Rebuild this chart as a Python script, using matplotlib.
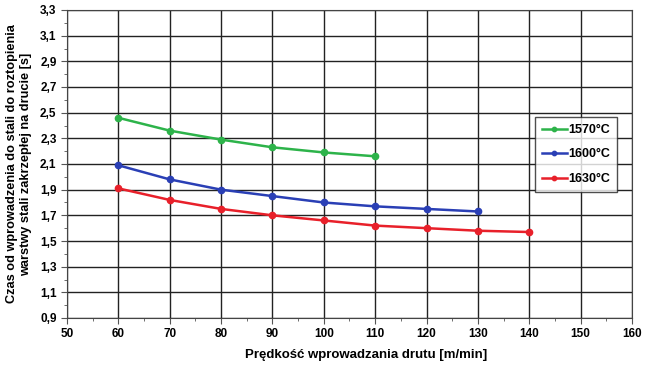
import numpy as np
import matplotlib.pyplot as plt
from matplotlib.ticker import MultipleLocator, FuncFormatter

# data
speed_1570 = [60, 70, 80, 90, 100, 110]
time_1570 = [2.46, 2.36, 2.29, 2.23, 2.19, 2.16]
speed_1600 = [60, 70, 80, 90, 100, 110, 120, 130]
time_1600 = [2.09, 1.98, 1.90, 1.85, 1.80, 1.77, 1.75, 1.73]
speed_1630 = [60, 70, 80, 90, 100, 110, 120, 130, 140]
time_1630 = [1.91, 1.82, 1.75, 1.70, 1.66, 1.62, 1.60, 1.58, 1.57]
labels = ["1570°C", "1600°C", "1630°C"]

plt.rcParams["font.family"] = ["Liberation Sans", "DejaVu Sans"]
plt.rcParams["font.weight"] = "bold"

fig = plt.figure(figsize=(6.46, 3.65), dpi=100)
ax = fig.add_axes([67 / 646, 1 - 318 / 365, 565 / 646, 308 / 365])

series = [
    (speed_1570, time_1570, "#2db34a"),
    (speed_1600, time_1600, "#2a3fb5"),
    (speed_1630, time_1630, "#e8202a"),
]
for (x, y, c), lab in zip(series, labels):
    ax.plot(x, y, color=c, lw=1.8, marker="o", ms=4.5, label=lab, zorder=3)

ax.set_xlim(50, 160)
ax.set_ylim(0.9, 3.3)
ax.xaxis.set_major_locator(MultipleLocator(10))
ax.xaxis.set_minor_locator(MultipleLocator(5))
ax.set_yticks(np.round(np.arange(0.9, 3.31, 0.2), 1))
ax.set_yticks(np.round(np.arange(1.0, 3.3, 0.2), 1), minor=True)
ax.yaxis.set_major_formatter(FuncFormatter(lambda v, p: f"{v:.1f}".replace(".", ",")))
ax.grid(True, which="major", color="#222222", lw=1.0)
ax.tick_params(which="both", direction="out", labelsize=8.5, color="#555555")
ax.tick_params(which="major", length=4)
ax.tick_params(which="minor", length=2.5)
for sp in ax.spines.values():
    sp.set_color("#444444")
ax.set_axisbelow(True)

ax.set_xlabel("Prędkość wprowadzania drutu [m/min]", fontsize=9.5, fontweight="bold")
ax.xaxis.set_label_coords(0.53, -0.1)
ax.set_ylabel("Czas od wprowadzenia do stali do roztopienia\nwarstwy stali zakrzepłej na drucie [s]",
              fontsize=9.2, fontweight="bold", labelpad=6)

leg = ax.legend(loc="upper left", bbox_to_anchor=(468 / 565, 1 - 107 / 308), fontsize=9,
                frameon=True, fancybox=False, edgecolor="#222222", handlelength=2.0,
                labelspacing=1.0, borderpad=0.55, handletextpad=0.1, markerscale=0.7,
                borderaxespad=0)
leg.get_frame().set_linewidth(1.0)

fig.savefig("out.png", dpi=100)
